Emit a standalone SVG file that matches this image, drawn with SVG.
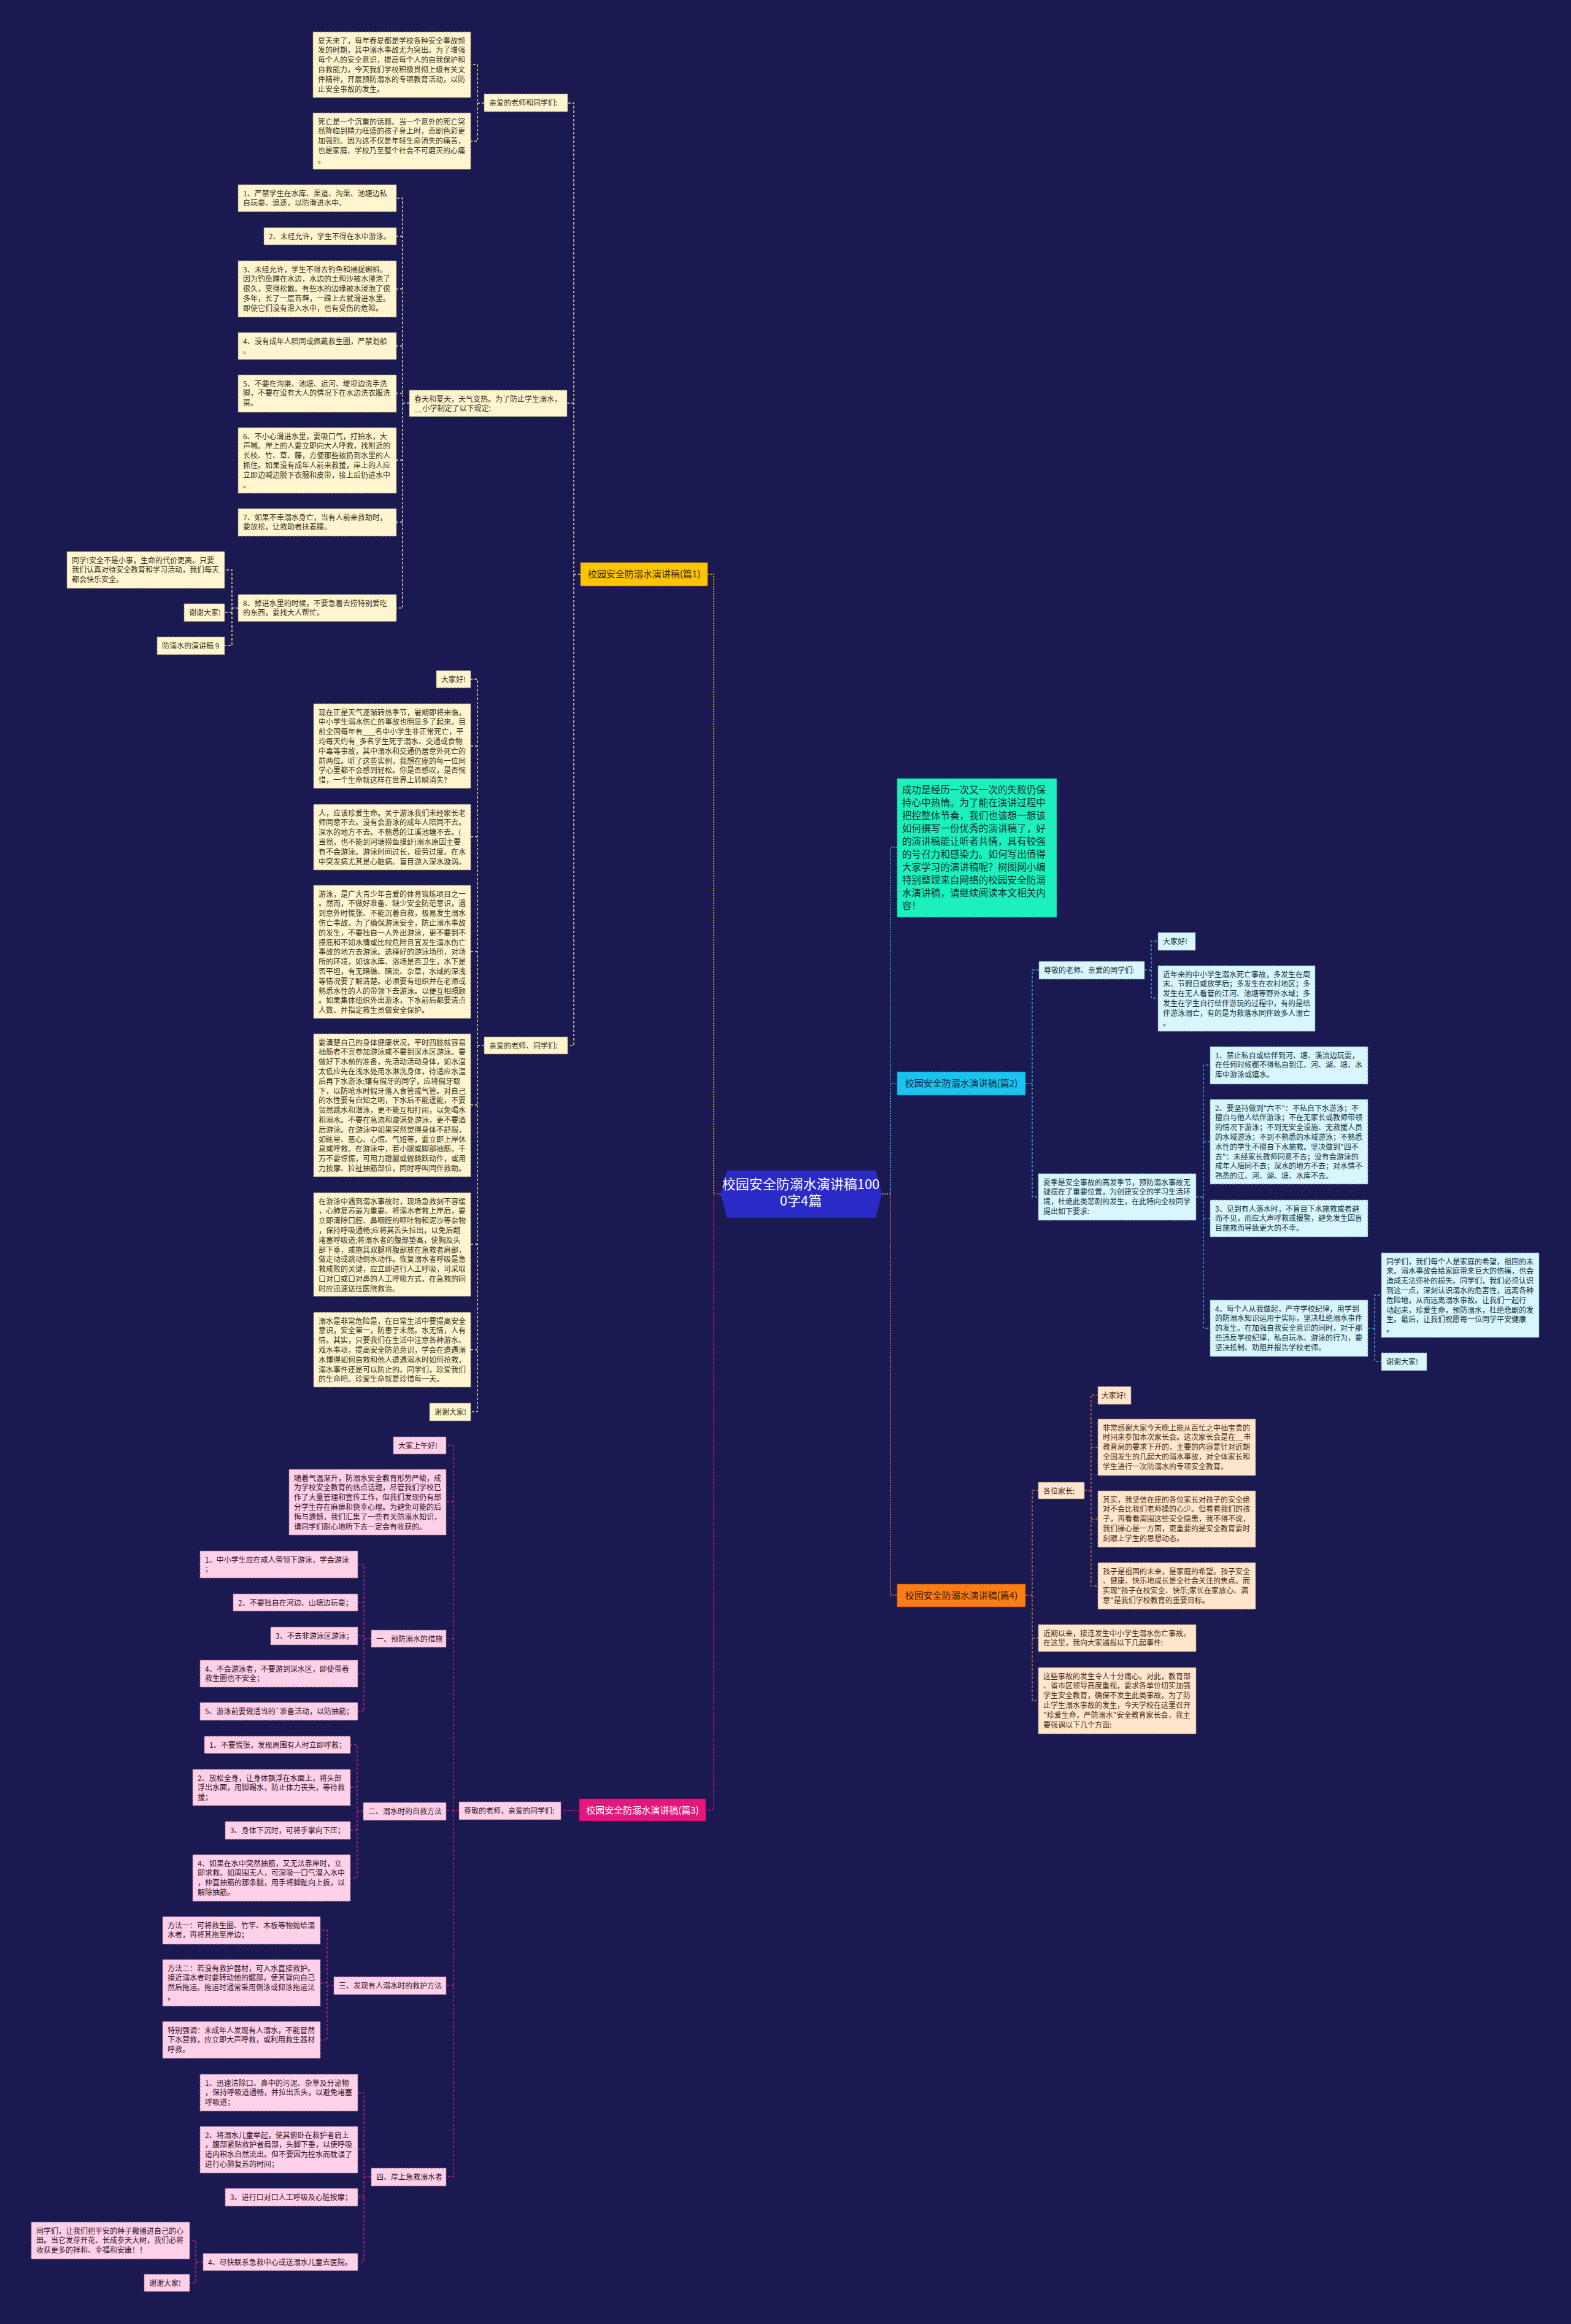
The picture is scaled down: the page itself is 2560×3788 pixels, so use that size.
<svg xmlns="http://www.w3.org/2000/svg" width="2560" height="3788" viewBox="0 0 2560 3788">
<style>
text{font-family:"Noto Sans CJK SC","Noto Sans",sans-serif;}
.t{font-size:12px;}
.y{fill:#fff6d0;stroke:#8e8460;stroke-width:1;stroke-dasharray:4 2;}
.c{fill:#d8f6fc;stroke:#6b95a6;stroke-width:1;stroke-dasharray:4 2;}
.p{fill:#ffd1e8;stroke:#a26b8a;stroke-width:1;stroke-dasharray:4 2;}
.o{fill:#ffe6cc;stroke:#a88466;stroke-width:1;stroke-dasharray:4 2;}
.ty{fill:#3a3020;}
.tc{fill:#13303f;}
.tp{fill:#2e1024;}
.to{fill:#4a2c14;}
.m{font-size:15px;text-anchor:middle;}
.ln{fill:none;stroke-width:1.5;stroke-dasharray:4 3;}
.ly{stroke:#eadb9c;}
.lY{stroke:#ffc400;stroke-dasharray:2 2;}
.lc{stroke:#34a8de;}
.lC{stroke:#27c6ef;stroke-dasharray:2 2;}
.lp{stroke:#c2237f;}
.lP{stroke:#d6217f;stroke-dasharray:2 2;}
.lo{stroke:#c8703c;}
.lO{stroke:#f28a2e;stroke-dasharray:2 2;}
</style>
<rect x="0" y="0" width="2560" height="3788" fill="#1a1951"/>

<g id="connectors">
<path class="ln lY" d="M1174,1946 H1163 V936 H1153"/>
<path class="ln lP" d="M1174,1946 H1163 V2950 H1150"/>
<path class="ln lC" d="M1437,1946 H1451 V1381 H1462"/>
<path class="ln lC" d="M1437,1946 H1451 V1766 H1462"/>
<path class="ln lO" d="M1437,1946 H1451 V2600 H1462"/>
<path class="ln ly" d="M946,936 H935 V168 H925 M935,657 H924 M935,936 V1704 H925"/>
<path class="ln ly" d="M789,168 H778 V105 H767 M778,168 V230 H767"/>
<path class="ln ly" d="M667,657 H656 V323 H646 M656,385 H646 M656,471 H646 M656,564 H646 M656,641 H646 M656,657 V991 H646 M656,750 H646 M656,851 H646"/>
<path class="ln ly" d="M388,991 H378 V929 H366 M378,991 V1052 H366 M378,998 H366"/>
<path class="ln ly" d="M789,1704 H778 V1107 H767 M778,1216 H767 M778,1364 H767 M778,1551 H767 M778,1704 V2301 H767 M778,1801 H767 M778,2028 H767 M778,2200 H767"/>
<path class="ln lc" d="M1671,1766 H1682 V1581 H1693 M1682,1766 V1951 H1692"/>
<path class="ln lc" d="M1865,1581 H1876 V1534 H1887 M1876,1581 V1627 H1887"/>
<path class="ln lc" d="M1949,1951 H1961 V1736 H1972 M1961,1861 H1972 M1961,1951 V2165 H1972 M1961,1986 H1972"/>
<path class="ln lc" d="M2229,2165 H2240 V2111 H2251 M2240,2165 V2219 H2251"/>
<path class="ln lp" d="M944,2951 H914"/>
<path class="ln lp" d="M748,2951 H739 V2356 H727 M739,2448 H727 M739,2671 H727 M739,2951 H727 M739,2951 V3548 H727 M739,3236 H727"/>
<path class="ln lp" d="M605,2671 H593 V2550 H583 M593,2612 H583 M593,2666 H583 M593,2671 V2789 H583 M593,2728 H583"/>
<path class="ln lp" d="M592,2952 H582 V2844 H571 M582,2913 H571 M582,2952 V3061 H571 M582,2983 H571"/>
<path class="ln lp" d="M544,3236 H533 V3146 H522 M533,3232 H522 M533,3236 V3325 H522"/>
<path class="ln lp" d="M605,3548 H593 V3411 H583 M593,3504 H583 M593,3548 V3687 H583 M593,3581 H583"/>
<path class="ln lp" d="M331,3687 H319 V3652 H309 M319,3687 V3721 H309"/>
<path class="ln lo" d="M1671,2600 H1682 V2429 H1692 M1682,2600 V2772 H1692 M1682,2670 H1692"/>
<path class="ln lo" d="M1767,2429 H1778 V2274 H1789 M1778,2359 H1789 M1778,2429 V2585 H1789 M1778,2476 H1789"/>
</g>

<g id="center">
<polygon points="1174,1946 1185,1908 1427,1908 1437,1946 1427,1985 1185,1985" fill="#2a2ac8"/>
<text x="1305" y="1938" font-size="22" fill="#ffffff" text-anchor="middle">校园安全防溺水演讲稿100</text>
<text x="1305" y="1965" font-size="22" fill="#ffffff" text-anchor="middle">0字4篇</text>
</g>

<g id="p1">
<rect x="946" y="917" width="207" height="38" fill="#ffc400" stroke="#b08600" stroke-dasharray="4 2"/>
<text class="m" x="1049.5" y="941" fill="#3a2a00">校园安全防溺水演讲稿(篇1)</text>
</g>
<g id="p1-a">
<rect class="y" x="789" y="153" width="136" height="29"/>
<text class="t ty" x="797" y="171.5">亲爱的老师和同学们:</text>
</g>
<g id="p1-a1">
<rect class="y" x="510" y="52" width="257" height="107"/>
<text class="t ty" x="518" y="70.5"><tspan>夏天来了，每年春夏都是学校各种安全事故频</tspan><tspan x="518" dy="15.8">发的时期，其中溺水事故尤为突出。为了增强</tspan><tspan x="518" dy="15.8">每个人的安全意识，提高每个人的自我保护和</tspan><tspan x="518" dy="15.8">自救能力，今天我们学校积极贯彻上级有关文</tspan><tspan x="518" dy="15.8">件精神，开展预防溺水的专项教育活动，以防</tspan><tspan x="518" dy="15.8">止安全事故的发生。</tspan></text>
</g>
<g id="p1-a2">
<rect class="y" x="510" y="184" width="257" height="92"/>
<text class="t ty" x="518" y="202.5"><tspan>死亡是一个沉重的话题。当一个意外的死亡突</tspan><tspan x="518" dy="15.8">然降临到精力旺盛的孩子身上时，悲剧色彩更</tspan><tspan x="518" dy="15.8">加强烈。因为这不仅是年轻生命消失的痛苦，</tspan><tspan x="518" dy="15.8">也是家庭、学校乃至整个社会不可磨灭的心痛</tspan><tspan x="518" dy="15.8">。</tspan></text>
</g>
<g id="p1-b">
<rect class="y" x="667" y="636" width="257" height="43"/>
<text class="t ty" x="675" y="654.5"><tspan>春天和夏天，天气变热。为了防止学生溺水，</tspan><tspan x="675" dy="15.8">__小学制定了以下规定:</tspan></text>
</g>
<g id="p1-b1">
<rect class="y" x="388" y="301" width="258" height="44"/>
<text class="t ty" x="396" y="319.5"><tspan>1、严禁学生在水库、渠道、沟渠、池塘边私</tspan><tspan x="396" dy="15.8">自玩耍、追逐，以防滑进水中。</tspan></text>
</g>
<g id="p1-b2">
<rect class="y" x="430" y="371" width="216" height="28"/>
<text class="t ty" x="438" y="389.5">2、未经允许，学生不得在水中游泳。</text>
</g>
<g id="p1-b3">
<rect class="y" x="388" y="425" width="258" height="92"/>
<text class="t ty" x="396" y="443.5"><tspan>3、未经允许，学生不得去钓鱼和捕捉蝌蚪。</tspan><tspan x="396" dy="15.8">因为钓鱼蹲在水边，水边的土和沙被水浸泡了</tspan><tspan x="396" dy="15.8">很久，变得松散。有些水的边缘被水浸泡了很</tspan><tspan x="396" dy="15.8">多年，长了一层苔藓，一踩上去就滑进水里。</tspan><tspan x="396" dy="15.8">即使它们没有滑入水中，也有受伤的危险。</tspan></text>
</g>
<g id="p1-b4">
<rect class="y" x="388" y="542" width="258" height="44"/>
<text class="t ty" x="396" y="560.5"><tspan>4、没有成年人陪同或佩戴救生圈，严禁划船</tspan><tspan x="396" dy="15.8">。</tspan></text>
</g>
<g id="p1-b5">
<rect class="y" x="388" y="611" width="258" height="61"/>
<text class="t ty" x="396" y="629.5"><tspan>5、不要在沟渠、池塘、运河、堤坝边洗手洗</tspan><tspan x="396" dy="15.8">脚，不要在没有大人的情况下在水边洗衣服洗</tspan><tspan x="396" dy="15.8">菜。</tspan></text>
</g>
<g id="p1-b6">
<rect class="y" x="388" y="697" width="258" height="107"/>
<text class="t ty" x="396" y="715.5"><tspan>6、不小心滑进水里，要吸口气，打拍水，大</tspan><tspan x="396" dy="15.8">声喊。岸上的人要立即向大人呼救，找附近的</tspan><tspan x="396" dy="15.8">长枝、竹、草、藤，方便那些被扔到水里的人</tspan><tspan x="396" dy="15.8">抓住。如果没有成年人前来救援，岸上的人应</tspan><tspan x="396" dy="15.8">立即边喊边脱下衣服和皮带，接上后扔进水中</tspan><tspan x="396" dy="15.8">。</tspan></text>
</g>
<g id="p1-b7">
<rect class="y" x="388" y="829" width="258" height="45"/>
<text class="t ty" x="396" y="847.5"><tspan>7、如果不幸溺水身亡，当有人前来救助时，</tspan><tspan x="396" dy="15.8">要放松，让救助者扶着腰。</tspan></text>
</g>
<g id="p1-b8">
<rect class="y" x="388" y="969" width="258" height="44"/>
<text class="t ty" x="396" y="987.5"><tspan>8、掉进水里的时候，不要急着去捞特别爱吃</tspan><tspan x="396" dy="15.8">的东西，要找大人帮忙。</tspan></text>
</g>
<g id="p1-b8a">
<rect class="y" x="109" y="899" width="257" height="60"/>
<text class="t ty" x="117" y="917.5"><tspan>同学!安全不是小事，生命的代价更高。只要</tspan><tspan x="117" dy="15.8">我们认真对待安全教育和学习活动，我们每天</tspan><tspan x="117" dy="15.8">都会快乐安全。</tspan></text>
</g>
<g id="p1-b8b">
<rect class="y" x="300" y="984" width="66" height="29"/>
<text class="t ty" x="308" y="1002.5">谢谢大家!</text>
</g>
<g id="p1-b8c">
<rect class="y" x="256" y="1038" width="110" height="29"/>
<text class="t ty" x="264" y="1056.5">防溺水的演讲稿 9</text>
</g>
<g id="p1-c">
<rect class="y" x="789" y="1690" width="136" height="28"/>
<text class="t ty" x="797" y="1708.5">亲爱的老师、同学们:</text>
</g>
<g id="p1-c1">
<rect class="y" x="711" y="1093" width="56" height="28"/>
<text class="t ty" x="719" y="1111.5">大家好!</text>
</g>
<g id="p1-c2">
<rect class="y" x="511" y="1147" width="256" height="138"/>
<text class="t ty" x="519" y="1165.5"><tspan>现在正是天气逐渐转热季节，暑期即将来临，</tspan><tspan x="519" dy="15.8">中小学生溺水伤亡的事故也明显多了起来。目</tspan><tspan x="519" dy="15.8">前全国每年有___名中小学生非正常死亡，平</tspan><tspan x="519" dy="15.8">均每天约有_多名学生死于溺水、交通或食物</tspan><tspan x="519" dy="15.8">中毒等事故，其中溺水和交通仍居意外死亡的</tspan><tspan x="519" dy="15.8">前两位。听了这些实例，我想在座的每一位同</tspan><tspan x="519" dy="15.8">学心里都不会感到轻松。你是否感叹，是否惋</tspan><tspan x="519" dy="15.8">惜，一个生命就这样在世界上转瞬消失?</tspan></text>
</g>
<g id="p1-c3">
<rect class="y" x="511" y="1311" width="256" height="107"/>
<text class="t ty" x="519" y="1329.5"><tspan>人，应该珍爱生命。关于游泳我们未经家长老</tspan><tspan x="519" dy="15.8">师同意不去。没有会游泳的成年人陪同不去。</tspan><tspan x="519" dy="15.8">深水的地方不去。不熟悉的江溪池塘不去。(</tspan><tspan x="519" dy="15.8">当然，也不能到河塘捞鱼摸虾)溺水原因主要</tspan><tspan x="519" dy="15.8">有不会游泳。游泳时间过长，疲劳过度。在水</tspan><tspan x="519" dy="15.8">中突发病尤其是心脏病。盲目游入深水漩涡。</tspan></text>
</g>
<g id="p1-c4">
<rect class="y" x="511" y="1443" width="256" height="217"/>
<text class="t ty" x="519" y="1461.5"><tspan>游泳，是广大青少年喜爱的体育锻炼项目之一</tspan><tspan x="519" dy="15.8">。然而，不做好准备、缺少安全防范意识，遇</tspan><tspan x="519" dy="15.8">到意外时慌张、不能沉着自救，极易发生溺水</tspan><tspan x="519" dy="15.8">伤亡事故。为了确保游泳安全，防止溺水事故</tspan><tspan x="519" dy="15.8">的发生，不要独自一人外出游泳，更不要到不</tspan><tspan x="519" dy="15.8">摸底和不知水情或比较危险且宜发生溺水伤亡</tspan><tspan x="519" dy="15.8">事故的地方去游泳。选择好的游泳场所，对场</tspan><tspan x="519" dy="15.8">所的环境，如该水库、浴场是否卫生，水下是</tspan><tspan x="519" dy="15.8">否平坦，有无暗礁、暗流、杂草，水域的深浅</tspan><tspan x="519" dy="15.8">等情况要了解清楚。必须要有组织并在老师或</tspan><tspan x="519" dy="15.8">熟悉水性的人的带领下去游泳。以便互相照顾</tspan><tspan x="519" dy="15.8">。如果集体组织外出游泳，下水前后都要清点</tspan><tspan x="519" dy="15.8">人数、并指定救生员做安全保护。</tspan></text>
</g>
<g id="p1-c5">
<rect class="y" x="511" y="1685" width="256" height="233"/>
<text class="t ty" x="519" y="1703.5"><tspan>要清楚自己的身体健康状况，平时四肢就容易</tspan><tspan x="519" dy="15.8">抽筋者不宜参加游泳或不要到深水区游泳。要</tspan><tspan x="519" dy="15.8">做好下水前的准备，先活动活动身体，如水温</tspan><tspan x="519" dy="15.8">太低应先在浅水处用水淋洗身体，待适应水温</tspan><tspan x="519" dy="15.8">后再下水游泳;镶有假牙的同学，应将假牙取</tspan><tspan x="519" dy="15.8">下，以防呛水时假牙落入食管或气管。对自己</tspan><tspan x="519" dy="15.8">的水性要有自知之明，下水后不能逞能，不要</tspan><tspan x="519" dy="15.8">贸然跳水和潜泳，更不能互相打闹，以免喝水</tspan><tspan x="519" dy="15.8">和溺水。不要在急流和漩涡处游泳，更不要酒</tspan><tspan x="519" dy="15.8">后游泳。在游泳中如果突然觉得身体不舒服，</tspan><tspan x="519" dy="15.8">如眩晕、恶心、心慌、气短等，要立即上岸休</tspan><tspan x="519" dy="15.8">息或呼救。在游泳中，若小腿或脚部抽筋，千</tspan><tspan x="519" dy="15.8">万不要惊慌，可用力蹬腿或做跳跃动作，或用</tspan><tspan x="519" dy="15.8">力按摩、拉扯抽筋部位，同时呼叫同伴救助。</tspan></text>
</g>
<g id="p1-c6">
<rect class="y" x="511" y="1944" width="256" height="169"/>
<text class="t ty" x="519" y="1962.5"><tspan>在游泳中遇到溺水事故时，现场急救刻不容缓</tspan><tspan x="519" dy="15.8">，心肺复苏最为重要。将溺水者救上岸后，要</tspan><tspan x="519" dy="15.8">立即清除口腔、鼻咽腔的呕吐物和泥沙等杂物</tspan><tspan x="519" dy="15.8">，保持呼吸通畅;应将其舌头拉出，以免后翻</tspan><tspan x="519" dy="15.8">堵塞呼吸道;将溺水者的腹部垫高，使胸及头</tspan><tspan x="519" dy="15.8">部下垂，或抱其双腿将腹部放在急救者肩部，</tspan><tspan x="519" dy="15.8">做走动或跳动倒水动作。恢复溺水者呼吸是急</tspan><tspan x="519" dy="15.8">救成败的关键，应立即进行人工呼吸，可采取</tspan><tspan x="519" dy="15.8">口对口或口对鼻的人工呼吸方式，在急救的同</tspan><tspan x="519" dy="15.8">时应迅速送往医院救治。</tspan></text>
</g>
<g id="p1-c7">
<rect class="y" x="511" y="2139" width="256" height="122"/>
<text class="t ty" x="519" y="2157.5"><tspan>溺水是非常危险是，在日常生活中要提高安全</tspan><tspan x="519" dy="15.8">意识，安全第一，防患于未然。水无情，人有</tspan><tspan x="519" dy="15.8">情。其实，只要我们在生活中注意各种游水、</tspan><tspan x="519" dy="15.8">戏水事项，提高安全防范意识，学会在遭遇溺</tspan><tspan x="519" dy="15.8">水懂得如何自救和他人遭遇溺水时如何抢救，</tspan><tspan x="519" dy="15.8">溺水事件还是可以防止的。同学们，珍爱我们</tspan><tspan x="519" dy="15.8">的生命吧。珍爱生命就是珍惜每一天。</tspan></text>
</g>
<g id="p1-c8">
<rect class="y" x="700" y="2287" width="67" height="29"/>
<text class="t ty" x="708" y="2305.5">谢谢大家!</text>
</g>

<g id="p2">
<rect x="1462" y="1747" width="209" height="38" fill="#19c4f0" stroke="#0a7fa6" stroke-dasharray="4 2"/>
<text class="m" x="1566.5" y="1771" fill="#0b2c44">校园安全防溺水演讲稿(篇2)</text>
</g>
<g id="intro">
<rect x="1462" y="1269" width="260" height="226" fill="#1cf0bf" stroke="#0e9c7c" stroke-dasharray="4 2"/>
<text x="1470" y="1293" font-size="15.6" fill="#10302a"><tspan>成功是经历一次又一次的失败仍保</tspan><tspan x="1470" dy="21">持心中热情。为了能在演讲过程中</tspan><tspan x="1470" dy="21">把控整体节奏，我们也该想一想该</tspan><tspan x="1470" dy="21">如何撰写一份优秀的演讲稿了，好</tspan><tspan x="1470" dy="21">的演讲稿能让听者共情，具有较强</tspan><tspan x="1470" dy="21">的号召力和感染力。如何写出值得</tspan><tspan x="1470" dy="21">大家学习的演讲稿呢？树图网小编</tspan><tspan x="1470" dy="21">特别整理来自网络的校园安全防溺</tspan><tspan x="1470" dy="21">水演讲稿，请继续阅读本文相关内</tspan><tspan x="1470" dy="21">容！</tspan></text>
</g>
<g id="p2-d">
<rect class="c" x="1693" y="1567" width="172" height="29"/>
<text class="t tc" x="1701" y="1585.5">尊敬的老师、亲爱的同学们:</text>
</g>
<g id="p2-d1">
<rect class="c" x="1887" y="1520" width="61" height="29"/>
<text class="t tc" x="1895" y="1538.5">大家好!</text>
</g>
<g id="p2-d2">
<rect class="c" x="1887" y="1574" width="256" height="107"/>
<text class="t tc" x="1895" y="1592.5"><tspan>近年来的中小学生溺水死亡事故，多发生在周</tspan><tspan x="1895" dy="15.8">末、节假日或放学后；多发生在农村地区；多</tspan><tspan x="1895" dy="15.8">发生在无人看管的江河、池塘等野外水域；多</tspan><tspan x="1895" dy="15.8">发生在学生自行结伴游玩的过程中，有的是结</tspan><tspan x="1895" dy="15.8">伴游泳溺亡，有的是为救落水同伴致多人溺亡</tspan><tspan x="1895" dy="15.8">。</tspan></text>
</g>
<g id="p2-e">
<rect class="c" x="1692" y="1913" width="257" height="76"/>
<text class="t tc" x="1700" y="1931.5"><tspan>夏季是安全事故的高发季节，预防溺水事故无</tspan><tspan x="1700" dy="15.8">疑摆在了重要位置，为创建安全的学习生活环</tspan><tspan x="1700" dy="15.8">境，杜绝此类悲剧的发生，在此特向全校同学</tspan><tspan x="1700" dy="15.8">提出如下要求:</tspan></text>
</g>
<g id="p2-e1">
<rect class="c" x="1972" y="1706" width="257" height="61"/>
<text class="t tc" x="1980" y="1724.5"><tspan>1、禁止私自或结伴到河、塘、溪流边玩耍，</tspan><tspan x="1980" dy="15.8">在任何时候都不得私自到江、河、湖、塘、水</tspan><tspan x="1980" dy="15.8">库中游泳或嬉水。</tspan></text>
</g>
<g id="p2-e2">
<rect class="c" x="1972" y="1792" width="257" height="138"/>
<text class="t tc" x="1980" y="1810.5"><tspan>2、要坚持做到"六不"：不私自下水游泳；不</tspan><tspan x="1980" dy="15.8">擅自与他人结伴游泳；不在无家长或教师带领</tspan><tspan x="1980" dy="15.8">的情况下游泳；不到无安全设施、无救援人员</tspan><tspan x="1980" dy="15.8">的水域游泳；不到不熟悉的水域游泳；不熟悉</tspan><tspan x="1980" dy="15.8">水性的学生不擅自下水施救。坚决做到"四不</tspan><tspan x="1980" dy="15.8">去"：未经家长教师同意不去；没有会游泳的</tspan><tspan x="1980" dy="15.8">成年人陪同不去；深水的地方不去；对水情不</tspan><tspan x="1980" dy="15.8">熟悉的江、河、湖、塘、水库不去。</tspan></text>
</g>
<g id="p2-e3">
<rect class="c" x="1972" y="1956" width="257" height="60"/>
<text class="t tc" x="1980" y="1974.5"><tspan>3、见到有人落水时，不盲目下水施救或者避</tspan><tspan x="1980" dy="15.8">而不见，而应大声呼救或报警，避免发生因盲</tspan><tspan x="1980" dy="15.8">目施救而导致更大的不幸。</tspan></text>
</g>
<g id="p2-e4">
<rect class="c" x="1972" y="2119" width="257" height="92"/>
<text class="t tc" x="1980" y="2137.5"><tspan>4、每个人从我做起，严守学校纪律，用学到</tspan><tspan x="1980" dy="15.8">的防溺水知识运用于实际，坚决杜绝溺水事件</tspan><tspan x="1980" dy="15.8">的发生。在加强自我安全意识的同时，对于那</tspan><tspan x="1980" dy="15.8">些违反学校纪律，私自玩水、游泳的行为，要</tspan><tspan x="1980" dy="15.8">坚决抵制、劝阻并报告学校老师。</tspan></text>
</g>
<g id="p2-e4a">
<rect class="c" x="2251" y="2042" width="257" height="138"/>
<text class="t tc" x="2259" y="2060.5"><tspan>同学们，我们每个人是家庭的希望，祖国的未</tspan><tspan x="2259" dy="15.8">来。溺水事故会给家庭带来巨大的伤痛，也会</tspan><tspan x="2259" dy="15.8">造成无法弥补的损失。同学们，我们必须认识</tspan><tspan x="2259" dy="15.8">到这一点，深刻认识溺水的危害性，远离各种</tspan><tspan x="2259" dy="15.8">危险地，从而远离溺水事故。让我们一起行</tspan><tspan x="2259" dy="15.8">动起来，珍爱生命，预防溺水，杜绝悲剧的发</tspan><tspan x="2259" dy="15.8">生。最后，让我们祝愿每一位同学平安健康</tspan><tspan x="2259" dy="15.8">。</tspan></text>
</g>
<g id="p2-e4b">
<rect class="c" x="2251" y="2205" width="74" height="29"/>
<text class="t tc" x="2259" y="2223.5">谢谢大家!</text>
</g>

<g id="p3">
<rect x="944" y="2932" width="206" height="36" fill="#e5177d" stroke="#9c0c52" stroke-dasharray="4 2"/>
<text class="m" x="1047" y="2955.5" fill="#ffffff">校园安全防溺水演讲稿(篇3)</text>
</g>
<g id="p3-f">
<rect class="p" x="748" y="2937" width="166" height="29"/>
<text class="t tp" x="756" y="2955.5">尊敬的老师，亲爱的同学们:</text>
</g>
<g id="p3-f1">
<rect class="p" x="641" y="2342" width="86" height="28"/>
<text class="t tp" x="649" y="2360.5">大家上午好!</text>
</g>
<g id="p3-f2">
<rect class="p" x="471" y="2395" width="256" height="107"/>
<text class="t tp" x="479" y="2413.5"><tspan>随着气温渐升，防溺水安全教育形势严峻，成</tspan><tspan x="479" dy="15.8">为学校安全教育的热点话题，尽管我们学校已</tspan><tspan x="479" dy="15.8">作了大量管理和宣传工作，但我们发现仍有部</tspan><tspan x="479" dy="15.8">分学生存在麻痹和侥幸心理。为避免可能的后</tspan><tspan x="479" dy="15.8">悔与遗憾，我们汇集了一些有关防溺水知识，</tspan><tspan x="479" dy="15.8">请同学们耐心地听下去一定会有收获的。</tspan></text>
</g>
<g id="p3-g">
<rect class="p" x="605" y="2657" width="122" height="28"/>
<text class="t tp" x="613" y="2675.5">一、预防溺水的措施</text>
</g>
<g id="p3-g1">
<rect class="p" x="326" y="2528" width="257" height="44"/>
<text class="t tp" x="334" y="2546.5"><tspan>1、中小学生应在成人带领下游泳，学会游泳</tspan><tspan x="334" dy="15.8">；</tspan></text>
</g>
<g id="p3-g2">
<rect class="p" x="380" y="2598" width="203" height="28"/>
<text class="t tp" x="388" y="2616.5">2、不要独自在河边、山塘边玩耍；</text>
</g>
<g id="p3-g3">
<rect class="p" x="441" y="2652" width="142" height="29"/>
<text class="t tp" x="449" y="2670.5">3、不去非游泳区游泳；</text>
</g>
<g id="p3-g4">
<rect class="p" x="326" y="2706" width="257" height="44"/>
<text class="t tp" x="334" y="2724.5"><tspan>4、不会游泳者，不要游到深水区，即使带着</tspan><tspan x="334" dy="15.8">救生圈也不安全；</tspan></text>
</g>
<g id="p3-g5">
<rect class="p" x="326" y="2775" width="257" height="29"/>
<text class="t tp" x="334" y="2793.5">5、游泳前要做适当的`准备活动，以防抽筋；</text>
</g>
<g id="p3-h">
<rect class="p" x="592" y="2938" width="135" height="29"/>
<text class="t tp" x="600" y="2956.5">二、溺水时的自救方法</text>
</g>
<g id="p3-h1">
<rect class="p" x="333" y="2830" width="238" height="28"/>
<text class="t tp" x="341" y="2848.5">1、不要慌张，发现周围有人时立即呼救；</text>
</g>
<g id="p3-h2">
<rect class="p" x="314" y="2884" width="257" height="59"/>
<text class="t tp" x="322" y="2902.5"><tspan>2、放松全身，让身体飘浮在水面上，将头部</tspan><tspan x="322" dy="15.8">浮出水面，用脚踢水，防止体力丧失，等待救</tspan><tspan x="322" dy="15.8">援；</tspan></text>
</g>
<g id="p3-h3">
<rect class="p" x="367" y="2969" width="204" height="29"/>
<text class="t tp" x="375" y="2987.5">3、身体下沉时，可将手掌向下压；</text>
</g>
<g id="p3-h4">
<rect class="p" x="314" y="3023" width="257" height="76"/>
<text class="t tp" x="322" y="3041.5"><tspan>4、如果在水中突然抽筋，又无法靠岸时，立</tspan><tspan x="322" dy="15.8">即求救。如周围无人，可深吸一口气潜入水中</tspan><tspan x="322" dy="15.8">，伸直抽筋的那条腿，用手将脚趾向上扳，以</tspan><tspan x="322" dy="15.8">解除抽筋。</tspan></text>
</g>
<g id="p3-i">
<rect class="p" x="544" y="3222" width="183" height="29"/>
<text class="t tp" x="552" y="3240.5">三、发现有人溺水时的救护方法</text>
</g>
<g id="p3-i1">
<rect class="p" x="265" y="3124" width="257" height="45"/>
<text class="t tp" x="273" y="3142.5"><tspan>方法一：可将救生圈、竹竿、木板等物抛给溺</tspan><tspan x="273" dy="15.8">水者，再将其拖至岸边；</tspan></text>
</g>
<g id="p3-i2">
<rect class="p" x="265" y="3194" width="257" height="76"/>
<text class="t tp" x="273" y="3212.5"><tspan>方法二：若没有救护器材，可入水直接救护。</tspan><tspan x="273" dy="15.8">接近溺水者时要转动他的髋部，使其背向自己</tspan><tspan x="273" dy="15.8">然后拖运。拖运时通常采用侧泳或仰泳拖运法</tspan><tspan x="273" dy="15.8">。</tspan></text>
</g>
<g id="p3-i3">
<rect class="p" x="265" y="3295" width="257" height="60"/>
<text class="t tp" x="273" y="3313.5"><tspan>特别强调：未成年人发现有人溺水，不能冒然</tspan><tspan x="273" dy="15.8">下水营救，应立即大声呼救，或利用救生器材</tspan><tspan x="273" dy="15.8">呼救。</tspan></text>
</g>
<g id="p3-j">
<rect class="p" x="605" y="3534" width="122" height="29"/>
<text class="t tp" x="613" y="3552.5">四、岸上急救溺水者</text>
</g>
<g id="p3-j1">
<rect class="p" x="326" y="3381" width="257" height="60"/>
<text class="t tp" x="334" y="3399.5"><tspan>1、迅速清除口、鼻中的污泥、杂草及分泌物</tspan><tspan x="334" dy="15.8">，保持呼吸道通畅，并拉出舌头，以避免堵塞</tspan><tspan x="334" dy="15.8">呼吸道；</tspan></text>
</g>
<g id="p3-j2">
<rect class="p" x="326" y="3466" width="257" height="76"/>
<text class="t tp" x="334" y="3484.5"><tspan>2、将溺水儿童举起，使其俯卧在救护者肩上</tspan><tspan x="334" dy="15.8">，腹部紧贴救护者肩部，头脚下垂，以使呼吸</tspan><tspan x="334" dy="15.8">道内积水自然流出。但不要因为控水而耽误了</tspan><tspan x="334" dy="15.8">进行心肺复苏的时间；</tspan></text>
</g>
<g id="p3-j3">
<rect class="p" x="367" y="3567" width="216" height="29"/>
<text class="t tp" x="375" y="3585.5">3、进行口对口人工呼吸及心脏按摩；</text>
</g>
<g id="p3-j4">
<rect class="p" x="331" y="3673" width="252" height="28"/>
<text class="t tp" x="339" y="3691.5">4、尽快联系急救中心或送溺水儿童去医院。</text>
</g>
<g id="p3-j4a">
<rect class="p" x="51" y="3622" width="258" height="60"/>
<text class="t tp" x="59" y="3640.5"><tspan>同学们，让我们把平安的种子撒播进自己的心</tspan><tspan x="59" dy="15.8">田。当它发芽开花、长成参天大树，我们必将</tspan><tspan x="59" dy="15.8">收获更多的祥和、幸福和安康！！</tspan></text>
</g>
<g id="p3-j4b">
<rect class="p" x="235" y="3707" width="74" height="28"/>
<text class="t tp" x="243" y="3725.5">谢谢大家!</text>
</g>

<g id="p4">
<rect x="1462" y="2582" width="209" height="37" fill="#fb7d13" stroke="#a84d00" stroke-dasharray="4 2"/>
<text class="m" x="1566.5" y="2606" fill="#3a1a00">校园安全防溺水演讲稿(篇4)</text>
</g>
<g id="p4-k">
<rect class="o" x="1692" y="2416" width="75" height="27"/>
<text class="t to" x="1700" y="2434.5">各位家长:</text>
</g>
<g id="p4-k1">
<rect class="o" x="1789" y="2260" width="54" height="29"/>
<text class="t to" x="1795" y="2278.5">大家好!</text>
</g>
<g id="p4-k2">
<rect class="o" x="1789" y="2313" width="257" height="92"/>
<text class="t to" x="1797" y="2331.5"><tspan>非常感谢大家今天晚上能从百忙之中抽宝贵的</tspan><tspan x="1797" dy="15.8">时间来参加本次家长会。这次家长会是在__市</tspan><tspan x="1797" dy="15.8">教育局的要求下开的，主要的内容是针对近期</tspan><tspan x="1797" dy="15.8">全国发生的几起大的溺水事故，对全体家长和</tspan><tspan x="1797" dy="15.8">学生进行一次防溺水的专项安全教育。</tspan></text>
</g>
<g id="p4-k3">
<rect class="o" x="1789" y="2430" width="257" height="92"/>
<text class="t to" x="1797" y="2448.5"><tspan>其实，我坚信在座的各位家长对孩子的安全绝</tspan><tspan x="1797" dy="15.8">对不会比我们老师操的心少。但看看我们的孩</tspan><tspan x="1797" dy="15.8">子，再看看周围这些安全隐患，我不得不说，</tspan><tspan x="1797" dy="15.8">我们操心是一方面，更重要的是安全教育要时</tspan><tspan x="1797" dy="15.8">刻跟上学生的思想动态。</tspan></text>
</g>
<g id="p4-k4">
<rect class="o" x="1789" y="2547" width="257" height="76"/>
<text class="t to" x="1797" y="2565.5"><tspan>孩子是祖国的未来，是家庭的希望。孩子安全</tspan><tspan x="1797" dy="15.8">、健康、快乐地成长是全社会关注的焦点。而</tspan><tspan x="1797" dy="15.8">实现"孩子在校安全、快乐;家长在家放心、满</tspan><tspan x="1797" dy="15.8">意"是我们学校教育的重要目标。</tspan></text>
</g>
<g id="p4-l">
<rect class="o" x="1692" y="2648" width="257" height="44"/>
<text class="t to" x="1700" y="2666.5"><tspan>近期以来，接连发生中小学生溺水伤亡事故。</tspan><tspan x="1700" dy="15.8">在这里，我向大家通报以下几起事件:</tspan></text>
</g>
<g id="p4-m">
<rect class="o" x="1692" y="2718" width="257" height="108"/>
<text class="t to" x="1700" y="2736.5"><tspan>这些事故的发生令人十分痛心。对此，教育部</tspan><tspan x="1700" dy="15.8">、省市区领导高度重视，要求各单位切实加强</tspan><tspan x="1700" dy="15.8">学生安全教育，确保不发生此类事故。为了防</tspan><tspan x="1700" dy="15.8">止学生溺水事故的发生，今天学校在这里召开</tspan><tspan x="1700" dy="15.8">"珍爱生命，严防溺水"安全教育家长会，我主</tspan><tspan x="1700" dy="15.8">要强调以下几个方面:</tspan></text>
</g>
</svg>
